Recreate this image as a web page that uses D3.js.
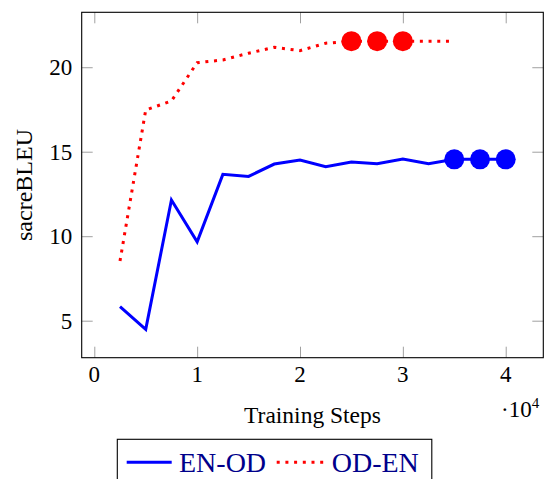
<!DOCTYPE html>
<html>
<head>
<meta charset="utf-8">
<script src="https://cdn.jsdelivr.net/npm/d3@7"></script>
<style>
body { margin: 0; background: #fff; }
text { font-family: "Liberation Serif", "DejaVu Serif", serif; fill: #000; }
</style>
</head>
<body>
<div id="chart"></div>
<script>
var steps = [2500, 5000, 7500, 10000, 12500, 15000, 17500, 20000, 22500, 25000, 27500, 30000, 32500, 35000, 37500, 40000];
var enOd = [5.83, 4.49, 12.14, 9.67, 13.66, 13.54, 14.27, 14.51, 14.11, 14.39, 14.29, 14.57, 14.29, 14.55, 14.55, 14.55];
var odEn = [8.53, 17.47, 18.0, 20.27, 20.43, 20.83, 21.18, 20.98, 21.42, 21.54, 21.54, 21.54, 21.54, 21.54];
var enOdMarks = [35000, 37500, 40000];
var odEnMarks = [25000, 27500, 30000];
var xTicks = [0, 10000, 20000, 30000, 40000];
var yTicks = [5, 10, 15, 20];

var W = 544, H = 479;
var pLeft = 81.7, pRight = 543.3, pTop = 12.3, pBottom = 357.7;

var svg = d3.select("#chart").append("svg").attr("width", W).attr("height", H);

var x = d3.scaleLinear().domain([-1225, 43655]).range([pLeft, pRight]);
var y = d3.scaleLinear().domain([2.81, 23.25]).range([pBottom, pTop]);

var tickColor = "#a0a0a0";
function styleAxis(g) {
    g.select(".domain").remove();
    g.selectAll(".tick line").attr("stroke", tickColor).attr("stroke-width", 1);
    g.selectAll(".tick text").remove();
}

svg.append("g").attr("transform", "translate(0," + pBottom + ")")
    .call(d3.axisBottom(x).tickValues(xTicks).tickSize(-11)).call(styleAxis);
svg.append("g").attr("transform", "translate(0," + pTop + ")")
    .call(d3.axisTop(x).tickValues(xTicks).tickSize(-11)).call(styleAxis);
svg.append("g").attr("transform", "translate(" + pLeft + ",0)")
    .call(d3.axisLeft(y).tickValues(yTicks).tickSize(-11)).call(styleAxis);
svg.append("g").attr("transform", "translate(" + pRight + ",0)")
    .call(d3.axisRight(y).tickValues(yTicks).tickSize(-11)).call(styleAxis);

svg.append("rect").attr("x", pLeft).attr("y", pTop).attr("width", pRight - pLeft).attr("height", pBottom - pTop)
    .attr("fill", "none").attr("stroke", "#000").attr("stroke-width", 1.1);

svg.selectAll(".xlab").data(xTicks).enter().append("text")
    .attr("x", function (d) { return x(d); }).attr("y", pBottom + 24)
    .attr("text-anchor", "middle").style("font-size", "23px")
    .text(function (d) { return d / 10000; });

svg.selectAll(".ylab").data(yTicks).enter().append("text")
    .attr("x", pLeft - 9.5).attr("y", function (d) { return y(d) + 8; })
    .attr("text-anchor", "end").style("font-size", "23px")
    .text(function (d) { return d; });

svg.append("text").attr("x", (pLeft + pRight) / 2).attr("y", 423)
    .attr("text-anchor", "middle").style("font-size", "23.5px").text("Training Steps");

var sc = svg.append("text").attr("x", 501).attr("y", 417).style("font-size", "23px");
sc.append("tspan").text("\u00b710");
sc.append("tspan").attr("dy", -9).style("font-size", "15px").text("4");

svg.append("text").attr("transform", "translate(32," + ((pTop + pBottom) / 2) + ") rotate(-90)")
    .attr("text-anchor", "middle").style("font-size", "24px").text("sacreBLEU");

var line = d3.line().x(function (d) { return x(d[0]); }).y(function (d) { return y(d[1]); });

svg.append("path").datum(steps.map(function (s, i) { return [s, enOd[i]]; }))
    .attr("d", line).attr("fill", "none").attr("stroke", "#0000ff").attr("stroke-width", 3)
    .attr("stroke-linejoin", "miter");
svg.append("path").datum(odEn.map(function (v, i) { return [steps[i], v]; }))
    .attr("d", line).attr("fill", "none").attr("stroke", "#ff0000").attr("stroke-width", 3)
    .attr("stroke-dasharray", "3,5.7");

svg.selectAll(".mb").data(enOdMarks).enter().append("circle")
    .attr("cx", function (d) { return x(d); })
    .attr("cy", function (d) { return y(enOd[steps.indexOf(d)]); })
    .attr("r", 10).attr("fill", "#0000ff");
svg.selectAll(".mr").data(odEnMarks).enter().append("circle")
    .attr("cx", function (d) { return x(d); })
    .attr("cy", function (d) { return y(odEn[steps.indexOf(d)]); })
    .attr("r", 10).attr("fill", "#ff0000");

// legend
var lg = svg.append("g");
lg.append("rect").attr("x", 117.3).attr("y", 439.3).attr("width", 314.5).attr("height", 60)
    .attr("fill", "#fff").attr("stroke", "#000").attr("stroke-width", 1.1);
lg.append("line").attr("x1", 126.7).attr("x2", 171.7).attr("y1", 462.3).attr("y2", 462.3)
    .attr("stroke", "#0000ff").attr("stroke-width", 3);
lg.append("text").attr("x", 179).attr("y", 472).style("font-size", "28px").style("fill", "#00008b").text("EN-OD");
lg.append("line").attr("x1", 276.7).attr("x2", 324).attr("y1", 462.3).attr("y2", 462.3)
    .attr("stroke", "#ff0000").attr("stroke-width", 3).attr("stroke-dasharray", "3,5.7");
lg.append("text").attr("x", 331.7).attr("y", 472).style("font-size", "28px").style("fill", "#00008b").text("OD-EN");
</script>
</body>
</html>
